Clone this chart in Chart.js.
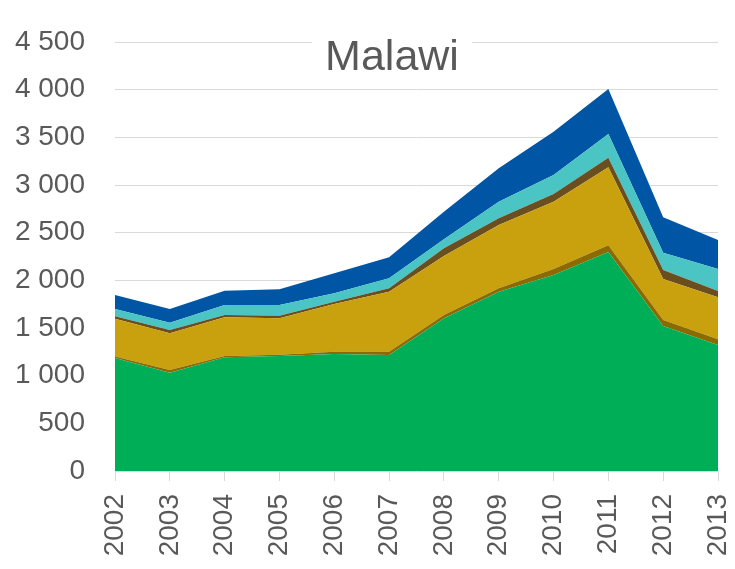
<!DOCTYPE html>
<html>
<head>
<meta charset="utf-8">
<script src="https://cdn.jsdelivr.net/npm/chart.js@4/dist/chart.umd.min.js"></script>
<style>
  html, body { margin: 0; padding: 0; background: #ffffff; }
  #wrap { width: 735px; height: 569px; position: relative; }
</style>
</head>
<body>
<div id="wrap"><canvas id="c" width="735" height="569"></canvas></div>
<script>
const years = ['2002','2003','2004','2005','2006','2007','2008','2009','2010','2011','2012','2013'];
const seriesGreen     = [1185, 1031, 1193, 1206, 1227, 1217, 1601, 1881, 2056, 2297, 1521, 1322];
const seriesOchre     = [15, 28, 13, 14, 25, 35, 35, 35, 63, 70, 63, 60];
const seriesGold      = [398, 385, 406, 381, 500, 629, 619, 664, 706, 819, 430, 440];
const seriesDarkBrown = [25, 35, 24, 28, 24, 35, 81, 70, 81, 101, 95, 66];
const seriesTeal      = [77, 77, 105, 112, 88, 105, 94, 175, 199, 248, 181, 231];
const seriesBlue      = [146, 144, 150, 165, 210, 221, 290, 350, 454, 472, 371, 304];
const yTicks = [0, 500, 1000, 1500, 2000, 2500, 3000, 3500, 4000, 4500];
const chartTitle = 'Malawi';

const FONT = '"Liberation Sans", Arial, sans-serif';
const TXT = '#595959';

function ds(data, color, fill) {
  return {
    data: data,
    backgroundColor: color,
    borderColor: color,
    borderWidth: 0,
    pointRadius: 0,
    pointHoverRadius: 0,
    tension: 0,
    fill: fill
  };
}

const titlePlugin = {
  id: 'titleBox',
  afterDraw(chart) {
    const ctx = chart.ctx;
    ctx.save();
    ctx.fillStyle = '#ffffff';
    ctx.fillRect(312, 30, 160, 52);
    ctx.fillStyle = TXT;
    ctx.font = '43px ' + FONT;
    ctx.textAlign = 'center';
    ctx.textBaseline = 'middle';
    ctx.fillText(chartTitle, 392, 58);
    ctx.restore();
  }
};

new Chart(document.getElementById('c'), {
  type: 'line',
  data: {
    labels: years,
    datasets: [
      ds(seriesGreen, '#00AE57', 'origin'),
      ds(seriesOchre, '#8C6A00', '-1'),
      ds(seriesGold, '#C9A00E', '-1'),
      ds(seriesDarkBrown, '#6A4E1F', '-1'),
      ds(seriesTeal, '#4BC4C4', '-1'),
      ds(seriesBlue, '#0055A4', '-1')
    ]
  },
  options: {
    responsive: false,
    animation: false,
    layout: { padding: { top: 42, right: 17, left: 0, bottom: 0 } },
    plugins: { legend: { display: false }, tooltip: { enabled: false }, title: { display: false } },
    scales: {
      x: {
        offset: false,
        grid: { drawOnChartArea: false, drawTicks: true, tickLength: 10, color: '#d9d9d9' },
        border: { display: false },
        ticks: {
          color: TXT, font: { family: FONT, size: 28 },
          minRotation: 90, maxRotation: 90, padding: 13, autoSkip: false
        },
        afterFit(s) { s.height = 98; s.paddingLeft = 0; s.paddingRight = 0; }
      },
      y: {
        stacked: true,
        min: 0, max: 4500,
        afterBuildTicks(s) { s.ticks = yTicks.map(v => ({ value: v })); },
        grid: { color: '#d9d9d9', drawTicks: false, lineWidth: 1 },
        border: { display: false },
        ticks: {
          color: TXT, font: { family: FONT, size: 28 }, padding: 30,
          callback: v => String(v).replace(/\B(?=(\d{3})+(?!\d))/g, ' ')
        },
        afterFit(s) { s.width = 115; s.paddingTop = 0; s.paddingBottom = 0; }
      }
    }
  },
  plugins: [titlePlugin]
});
</script>
</body>
</html>
